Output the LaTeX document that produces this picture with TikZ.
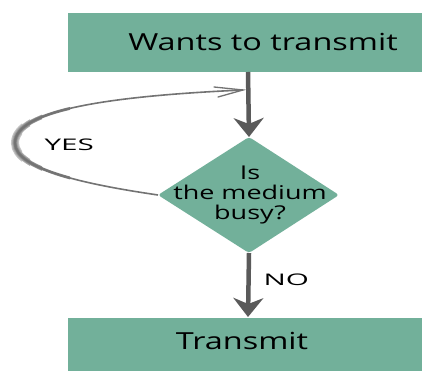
\documentclass[tikz,border=0pt]{standalone}
\usepackage{fontspec}
\setmainfont{Open Sans}
\newfontfamily\bigf[FakeStretch=1.38]{Open Sans}
\newfontfamily\midf[FakeStretch=1.42]{Open Sans}
\newfontfamily\smallf[FakeStretch=1.85]{Open Sans}
\usetikzlibrary{shapes.geometric,arrows.meta}
\definecolor{boxfill}{RGB}{114,176,154}
\definecolor{arrowgray}{RGB}{90,90,90}
\tikzset{
  box/.style={fill=boxfill,draw=none,inner sep=0pt},
  flow/.style={draw=arrowgray,line width=4.5pt,-{Stealth[length=19pt,width=30pt,inset=6pt]}},
  loopline/.style={draw=arrowgray!85,line width=1.6pt},
  lbl/.style={font=\smallf\fontsize{16}{16}\selectfont,text=black}
}
\def\looppath{(158,195) .. controls (90,185) and (15,170) .. (15,143)
   .. controls (15,110) and (110,96) .. (243,90)}
\begin{document}
\begin{tikzpicture}[x=1pt,y=-1pt]
\useasboundingbox (0,0) rectangle (422,371);
\fill[white] (0,0) rectangle (422,371);
% boxes
\node[box,minimum width=354pt,minimum height=59pt,anchor=north west] (top) at (68,13) {};
\node[font=\bigf\fontsize{23.5}{23.5}\selectfont] (toptext) at (263,42) {Wants to transmit};
\node[box,minimum width=354pt,minimum height=53pt,anchor=north west] (bot) at (68,318) {};
\node[font=\bigf\fontsize{23.5}{23.5}\selectfont] (bottext) at (242,341) {Transmit};
% diamond
\path[fill=boxfill,rounded corners=3pt] (249,137) -- (339,195) -- (249,253) -- (158,195) -- cycle;
\coordinate (dtop) at (249,137);
\coordinate (dleft) at (158,195);
\coordinate (dbot) at (249,253);
\node[font=\midf\fontsize{19}{20}\selectfont,align=center] (dtext) at (250,195) {Is\\the medium\\busy?};
% arrows
\draw[flow] (248,72) -- (dtop);
\draw[flow] (dbot) -- (248,317);
\node[lbl,anchor=west] (no) at (260,280) {NO};
% loop (thicker, shaded near its left end)
\coordinate (m) at (243,90);
\begin{scope}
  \clip (0,0) rectangle (22,371);
  \draw[arrowgray!35,line width=8pt] \looppath;
\end{scope}
\begin{scope}
  \clip (0,0) rectangle (30,371);
  \draw[arrowgray!50,line width=6pt] \looppath;
\end{scope}
\begin{scope}
  \clip (0,0) rectangle (42,371);
  \draw[arrowgray!65,line width=4.2pt] \looppath;
\end{scope}
\begin{scope}
  \clip (0,0) rectangle (70,371);
  \draw[arrowgray!80,line width=2.8pt] \looppath;
\end{scope}
\draw[loopline] (dleft) .. controls (90,185) and (15,170) .. (15,143)
   .. controls (15,110) and (110,96) .. (m);
\draw[arrowgray!85,line width=1.3pt,line cap=round] (214,87) -- (m) -- (218,97);
\node[lbl,anchor=west] (yes) at (41,145) {YES};
\end{tikzpicture}
\end{document}
